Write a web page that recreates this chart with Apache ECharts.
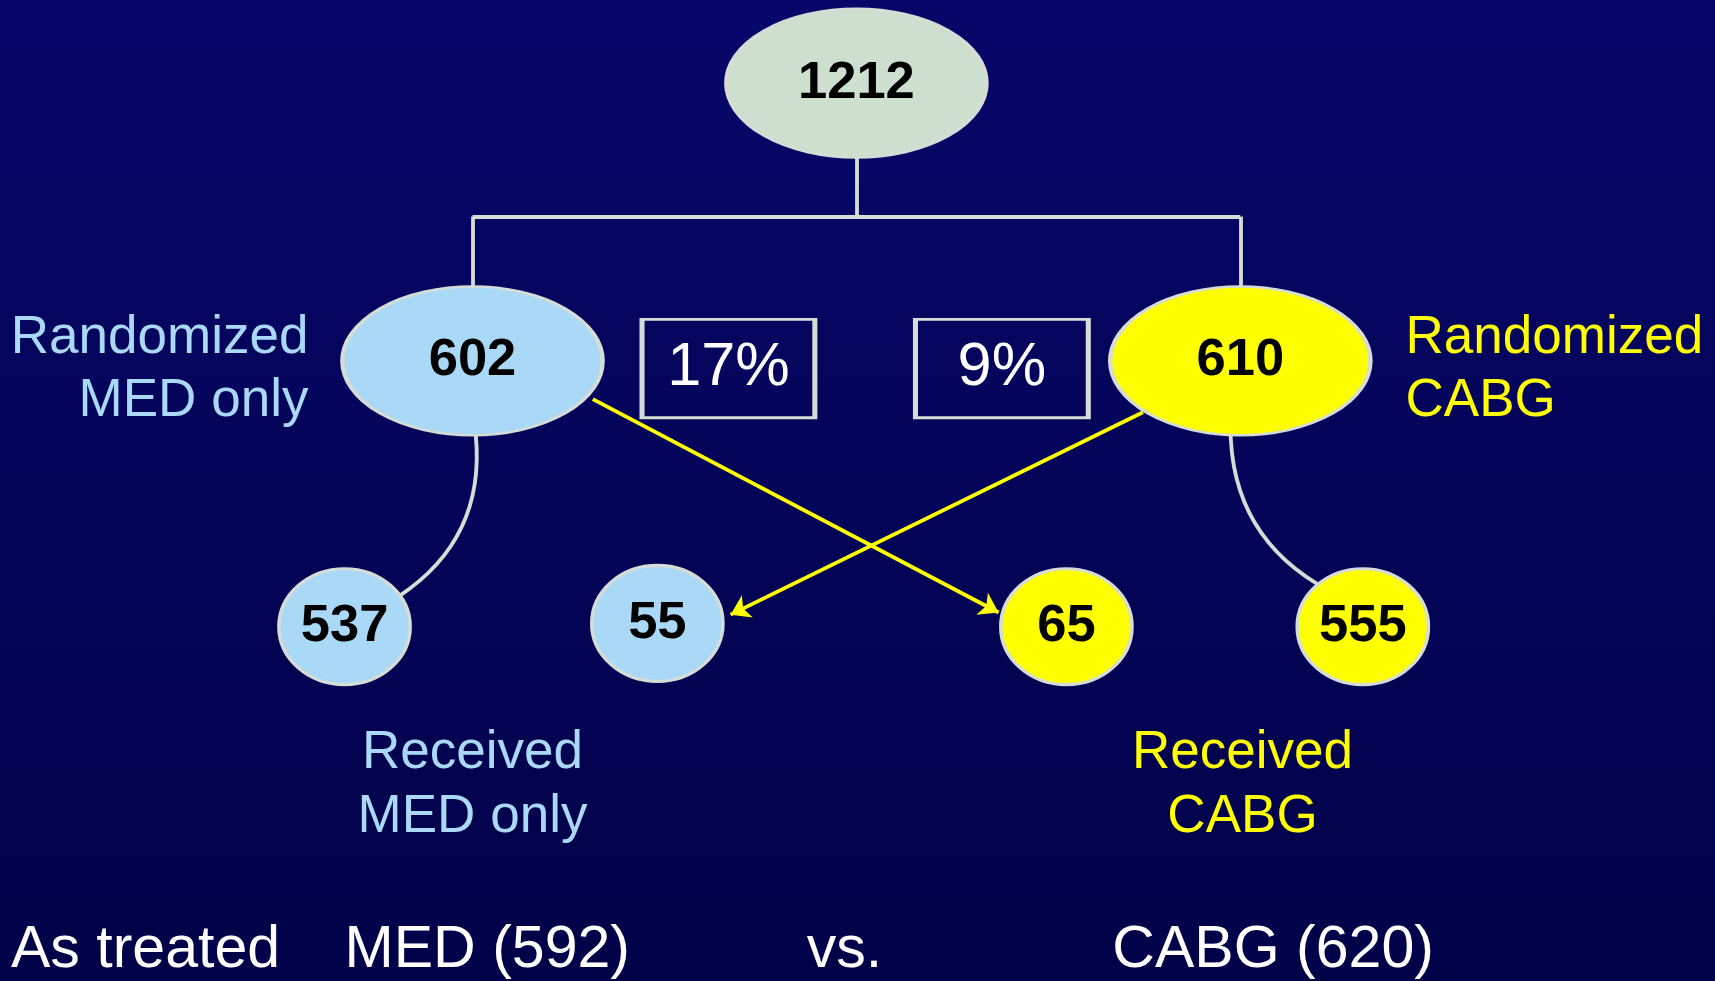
<!DOCTYPE html>
<html>
<head>
<meta charset="utf-8">
<script src="https://cdn.jsdelivr.net/npm/echarts@6/dist/echarts.min.js"></script>
<style>
html,body{margin:0;padding:0;width:100%;height:100%;background:#03035a;}
#chart{width:1715px;height:981px;}
</style>
</head>
<body>
<div id="chart"></div>
<script>
// flow chart values (reference units: 1568 x 897)
var nodeLabels = ['1212', '602', '610', '537', '55', '65', '555'];
var nodePos = [[783, 76], [432, 330], [1134, 330], [315, 573], [601, 570], [975, 573], [1246, 573]];
var nodeGroup = ['root', 'med', 'cabg', 'med', 'med', 'cabg', 'cabg'];
var boxLabels = ['17%', '9%'];
var boxPos = [[666, 337], [916, 337]];
var treeLines = [
    [[783, 144], [783, 198]],
    [[432, 198], [1134, 198]],
    [[432, 198], [432, 263]],
    [[1134, 198], [1134, 263]]
];
var crossArrows = [
    [[542, 365], [913, 560]],
    [[1045, 377], [668, 562]]
];
var curves = [
    [[435, 398], [365, 545]],
    [[1125, 390], [1215, 540]]
];
var texts = [
    {t: 'Randomized', p: [282, 309], c: 'med', a: 'right', s: 48.5},
    {t: 'MED only', p: [282, 367], c: 'med', a: 'right', s: 48.5},
    {t: 'Randomized', p: [1285, 309], c: 'cabg', a: 'left', s: 48.5},
    {t: 'CABG', p: [1285, 367], c: 'cabg', a: 'left', s: 48.5},
    {t: 'Received', p: [432, 689], c: 'med', a: 'center', s: 48.5},
    {t: 'MED only', p: [432, 747], c: 'med', a: 'center', s: 48.5},
    {t: 'Received', p: [1136, 689], c: 'cabg', a: 'center', s: 48.5},
    {t: 'CABG', p: [1136, 747], c: 'cabg', a: 'center', s: 48.5},
    {t: 'As treated', p: [10, 869], c: 'white', a: 'left', s: 54},
    {t: 'MED (592)', p: [315, 869], c: 'white', a: 'left', s: 54},
    {t: 'vs.', p: [772, 869], c: 'white', a: 'center', s: 54},
    {t: 'CABG (620)', p: [1017, 869], c: 'white', a: 'left', s: 54}
];

var W = 1715, S = W / 1568;
var fills = {root: '#cde0cf', med: '#a9d9f7', cabg: '#ffff00'};
var textColors = {med: '#a9d9f7', cabg: '#ffff00', white: '#ffffff'};
var font = '"Liberation Sans", Arial, sans-serif';

var chart = echarts.init(document.getElementById('chart'));

var nodeData = nodeLabels.map(function (n, i) {
    var big = i < 3;
    return {
        value: nodePos[i],
        name: n,
        symbolSize: big ? [238 * S, 136 * S] : [120 * S, 106 * S],
        itemStyle: {color: fills[nodeGroup[i]], borderColor: '#d6dcd6', borderWidth: 3 * S, opacity: 1},
        label: {show: true, formatter: n, color: '#000', fontWeight: 'bold', fontSize: 48 * S, fontFamily: font}
    };
});
var boxData = boxLabels.map(function (b, i) {
    return {value: boxPos[i], name: b, label: {formatter: b}};
});
var textData = texts.map(function (d) {
    return {value: d.p, label: {formatter: d.t, color: textColors[d.c], align: d.a, fontSize: d.s * S}};
});

chart.setOption({
    backgroundColor: {
        type: 'linear', x: 0, y: 0, x2: 0, y2: 1,
        colorStops: [{offset: 0, color: '#07076a'}, {offset: 1, color: '#010148'}]
    },
    animation: false,
    grid: {left: 0, right: 0, top: 0, bottom: 0},
    xAxis: {type: 'value', min: 0, max: 1568, show: false},
    yAxis: {type: 'value', min: 0, max: 897, inverse: true, show: false},
    series: [
        {
            type: 'lines', coordinateSystem: 'cartesian2d', z: 1,
            lineStyle: {color: '#d6dcd6', width: 3.5 * S, opacity: 1},
            data: treeLines.map(function (c) { return {coords: c}; })
        },
        {
            type: 'lines', coordinateSystem: 'cartesian2d', z: 1,
            lineStyle: {color: '#d6dcd6', width: 3.5 * S, opacity: 1, curveness: 0.3},
            data: [{coords: curves[0]}, {coords: curves[1], lineStyle: {curveness: -0.3}}]
        },
        {
            type: 'lines', coordinateSystem: 'cartesian2d', z: 3,
            symbol: ['none', 'arrow'], symbolSize: 17 * S,
            lineStyle: {color: '#ffff00', width: 3.5 * S, opacity: 1},
            data: crossArrows.map(function (c) { return {coords: c}; })
        },
        {
            type: 'scatter', z: 2, symbol: 'circle',
            data: nodeData
        },
        {
            type: 'scatter', z: 2, symbol: 'rect', symbolSize: [158 * S, 90 * S],
            itemStyle: {color: 'rgba(0,0,0,0)', borderColor: '#d6dcd6', borderWidth: 3.5 * S, opacity: 1},
            label: {show: true, position: 'inside', color: '#fff', fontSize: 56 * S, fontFamily: font},
            data: boxData
        },
        {
            type: 'scatter', z: 4, symbolSize: 0,
            itemStyle: {opacity: 1},
            label: {show: true, position: 'inside', fontFamily: font, verticalAlign: 'middle'},
            data: textData
        }
    ]
});
</script>
</body>
</html>
